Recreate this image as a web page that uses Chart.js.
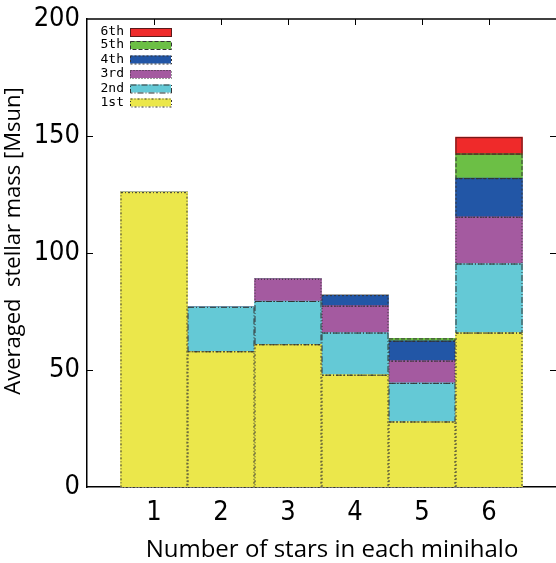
<!DOCTYPE html>
<html>
<head>
<meta charset="utf-8">
<script src="https://cdn.jsdelivr.net/npm/chart.js@4"></script>
<style>
  html, body { margin: 0; padding: 0; background: #fff; }
  #wrap { width: 556px; height: 563px; }
</style>
</head>
<body>
<div id="wrap"><canvas id="myChart" width="556" height="563"></canvas></div>
<script>
// number of stars in each minihalo
const stars = [1, 2, 3, 4, 5, 6];
const yTicks = [0, 50, 100, 150, 200];

// averaged stellar mass per star rank (stacked segments), Msun
const first  = [126, 58, 61, 48, 28, 66];
const second = [0, 19, 18.5, 18, 16.5, 29.5];
const third  = [0, 0, 9.5, 11.5, 9.5, 20];
const fourth = [0, 0, 0, 4.5, 8.5, 16.5];
const fifth  = [0, 0, 0, 0, 1, 10.5];
const sixth  = [0, 0, 0, 0, 0, 7];

const xTitle = 'Number of stars in each minihalo';
const yTitle = 'Averaged  stellar mass [Msun]';

const seriesNames = ['1st', '2nd', '3rd', '4th', '5th', '6th'];
const seriesColors = ['#ebe74b', '#64c9d6', '#a45aa0', '#2256a6', '#6cbf45', '#ef2a2a'];
const seriesDash = [[2, 2, 1, 2], [6, 2, 1, 2], [1, 2], [2, 2], [4, 2], []];

const tickFont = { family: "'DejaVu Sans Condensed', 'Liberation Sans Narrow', sans-serif", size: 27 };
const titleFamily = "'Open Sans', Lato, sans-serif";

function toPoints(arr) {
    return arr.map((v, i) => ({ x: stars[i], y: v }));
}

const datasets = [first, second, third, fourth, fifth, sixth].map((arr, i) => ({
    label: seriesNames[i],
    data: toPoints(arr),
    backgroundColor: seriesColors[i],
    borderWidth: 0,
    categoryPercentage: 1,
    barPercentage: 1
}));

// dashed outlines, frame, inward ticks, axis titles and key
const gnuplotLook = {
    id: 'gnuplotLook',
    afterDatasetsDraw(chart) {
        const ctx = chart.ctx;
        ctx.save();
        ctx.lineWidth = 1;
        chart.data.datasets.forEach((ds, di) => {
            const meta = chart.getDatasetMeta(di);
            meta.data.forEach((bar, j) => {
                if (!ds.data[j].y) return;
                const p = bar.getProps(['x', 'y', 'base', 'width'], true);
                ctx.strokeStyle = di === 5 ? '#5a1a1a' : '#333';
                ctx.setLineDash(seriesDash[di]);
                ctx.strokeRect(p.x - p.width / 2 + 0.5, p.y + 0.5, p.width - 1, p.base - p.y);
            });
        });
        ctx.restore();
    },
    afterDraw(chart) {
        const ctx = chart.ctx;
        const a = chart.chartArea;
        const xs = chart.scales.x, ys = chart.scales.y;
        ctx.save();
        ctx.strokeStyle = '#000';
        ctx.lineWidth = 1.5;
        ctx.setLineDash([]);
        ctx.beginPath();
        ctx.moveTo(a.left, a.top); ctx.lineTo(a.right, a.top);
        ctx.stroke();
        ctx.lineWidth = 1;
        ctx.beginPath();
        yTicks.slice(1, -1).forEach(v => {
            const py = Math.round(ys.getPixelForValue(v)) + 0.5;
            ctx.moveTo(a.left, py); ctx.lineTo(a.left + 6, py);
            ctx.moveTo(a.right, py); ctx.lineTo(a.right - 6, py);
        });
        stars.forEach(v => {
            const px = Math.round(xs.getPixelForValue(v)) + 0.5;
            ctx.moveTo(px, a.top); ctx.lineTo(px, a.top + 6);
        });
        ctx.stroke();

        // axis titles
        ctx.fillStyle = '#000';
        ctx.textAlign = 'center';
        ctx.textBaseline = 'alphabetic';
        ctx.font = '24px ' + titleFamily;
        ctx.fillText(xTitle, 332, 557);
        ctx.save();
        ctx.translate(20, 241);
        ctx.rotate(-Math.PI / 2);
        ctx.font = '22px ' + titleFamily;
        ctx.fillText(yTitle, 0, 0);
        ctx.restore();

        // key, top-left inside the frame, last series first
        ctx.font = "13px 'DejaVu Sans Mono', monospace";
        ctx.textAlign = 'right';
        ctx.textBaseline = 'middle';
        const rows = [32, 45, 59.5, 74, 88.5, 102.5];
        for (let k = 0; k < seriesNames.length; k++) {
            const di = seriesNames.length - 1 - k;
            const cy = rows[k];
            ctx.fillStyle = '#000';
            ctx.fillText(seriesNames[di], 124, cy);
            ctx.fillStyle = seriesColors[di];
            ctx.fillRect(130, cy - 4, 41, 8);
            ctx.strokeStyle = di === 5 ? '#5a1a1a' : '#333';
            ctx.setLineDash(seriesDash[di]);
            ctx.strokeRect(130.5, cy - 3.5, 41, 8);
        }
        ctx.restore();
    }
};

const ctx = document.getElementById('myChart').getContext('2d');
const chart = new Chart(ctx, {
    type: 'bar',
    data: { datasets: datasets },
    plugins: [gnuplotLook],
    options: {
        responsive: false,
        animation: false,
        layout: { padding: 0 },
        plugins: { legend: { display: false }, tooltip: { enabled: false } },
        scales: {
            x: {
                type: 'linear',
                stacked: true,
                offset: false,
                min: 0,
                max: 7,
                afterFit(scale) { scale.height = 76; scale.paddingLeft = 0; scale.paddingRight = 0; },
                grid: { display: false, drawTicks: false },
                border: { display: true, color: '#000', width: 1.5 },
                ticks: {
                    stepSize: 1,
                    padding: 10,
                    color: '#000',
                    font: tickFont,
                    callback: v => stars.includes(v) ? String(v) : ''
                }
            },
            y: {
                stacked: true,
                min: 0,
                max: 200,
                afterFit(scale) { scale.width = 87; scale.paddingTop = 19; scale.paddingBottom = 0; },
                afterBuildTicks(scale) { scale.ticks = yTicks.map(v => ({ value: v })); },
                grid: { display: false, drawTicks: false },
                border: { display: true, color: '#000', width: 1.5 },
                ticks: { padding: 7, color: '#000', font: tickFont }
            }
        }
    }
});
</script>
</body>
</html>
